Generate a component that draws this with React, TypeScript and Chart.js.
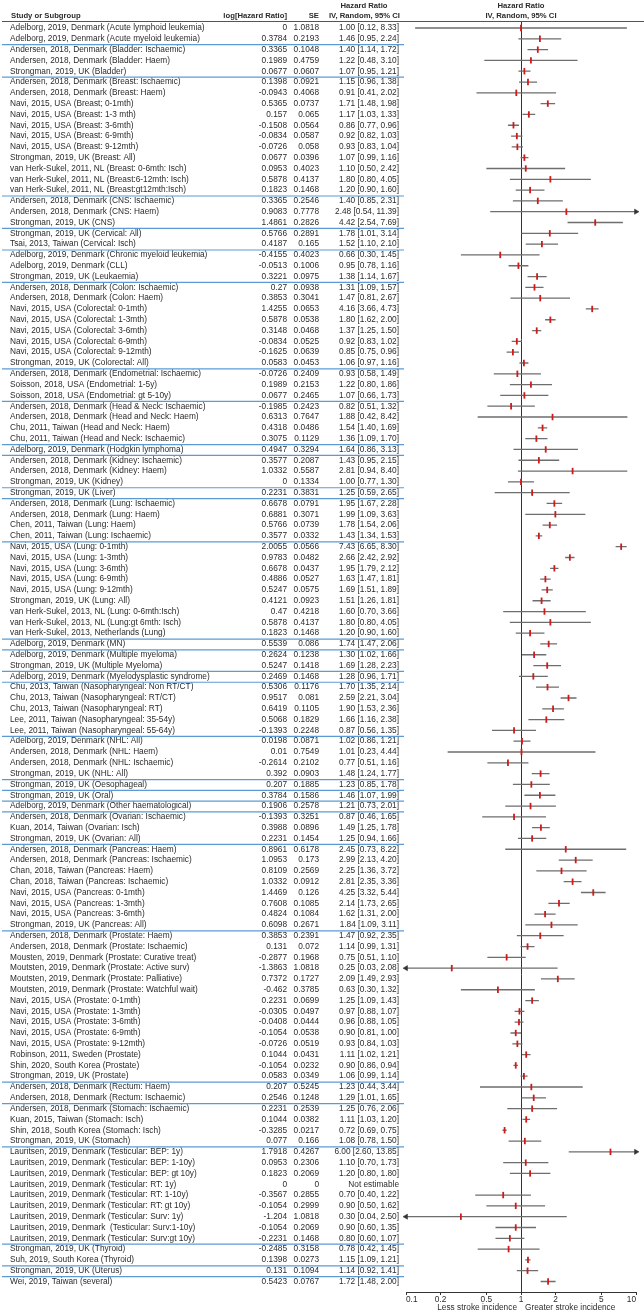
import React, { useEffect, useRef } from "react";
import { Chart, registerables } from "chart.js";

Chart.register(...registerables);

const studies: string[] = [
  "Adelborg, 2019, Denmark (Acute lymphoid leukemia)",
  "Adelborg, 2019, Denmark (Acute myeloid leukemia)",
  "Andersen, 2018, Denmark (Bladder: Ischaemic)",
  "Andersen, 2018, Denmark (Bladder: Haem)",
  "Strongman, 2019, UK (Bladder)",
  "Andersen, 2018, Denmark (Breast: Ischaemic)",
  "Andersen, 2018, Denmark (Breast: Haem)",
  "Navi, 2015, USA (Breast; 0-1mth)",
  "Navi, 2015, USA (Breast: 1-3 mth)",
  "Navi, 2015, USA (Breast: 3-6mth)",
  "Navi, 2015, USA (Breast: 6-9mth)",
  "Navi, 2015, USA (Breast: 9-12mth)",
  "Strongman, 2019, UK (Breast: All)",
  "van Herk-Sukel, 2011, NL (Breast: 0-6mth: Isch)",
  "van Herk-Sukel, 2011, NL (Breast:6-12mth: Isch)",
  "van Herk-Sukel, 2011, NL (Breast:gt12mth:Isch)",
  "Andersen, 2018, Denmark (CNS: Ischaemic)",
  "Andersen, 2018, Denmark (CNS: Haem)",
  "Strongman, 2019, UK (CNS)",
  "Strongman, 2019, UK (Cervical: All)",
  "Tsai, 2013, Taiwan (Cervical: Isch)",
  "Adelborg, 2019, Denmark (Chronic myeloid leukemia)",
  "Adelborg, 2019, Denmark (CLL)",
  "Strongman, 2019, UK (Leukaemia)",
  "Andersen, 2018, Denmark (Colon: Ischaemic)",
  "Andersen, 2018, Denmark (Colon: Haem)",
  "Navi, 2015, USA (Colorectal: 0-1mth)",
  "Navi, 2015, USA (Colorectal: 1-3mth)",
  "Navi, 2015, USA (Colorectal: 3-6mth)",
  "Navi, 2015, USA (Colorectal: 6-9mth)",
  "Navi, 2015, USA (Colorectal: 9-12mth)",
  "Strongman, 2019, UK (Colorectal: All)",
  "Andersen, 2018, Denmark (Endometrial: Ischaemic)",
  "Soisson, 2018, USA (Endometrial: 1-5y)",
  "Soisson, 2018, USA (Endometrial: gt 5-10y)",
  "Andersen, 2018, Denmark (Head & Neck: Ischaemic)",
  "Andersen, 2018, Denmark (Head and Neck: Haem)",
  "Chu, 2011, Taiwan (Head and Neck: Haem)",
  "Chu, 2011, Taiwan (Head and Neck: Ischaemic)",
  "Adelborg, 2019, Denmark (Hodgkin lymphoma)",
  "Andersen, 2018, Denmark (Kidney: Ischaemic)",
  "Andersen, 2018, Denmark (Kidney: Haem)",
  "Strongman, 2019, UK (Kidney)",
  "Strongman, 2019, UK (Liver)",
  "Andersen, 2018, Denmark (Lung: Ischaemic)",
  "Andersen, 2018, Denmark (Lung: Haem)",
  "Chen, 2011, Taiwan (Lung: Haem)",
  "Chen, 2011, Taiwan (Lung: Ischaemic)",
  "Navi, 2015, USA (Lung: 0-1mth)",
  "Navi, 2015, USA (Lung: 1-3mth)",
  "Navi, 2015, USA (Lung: 3-6mth)",
  "Navi, 2015, USA (Lung: 6-9mth)",
  "Navi, 2015, USA (Lung: 9-12mth)",
  "Strongman, 2019, UK (Lung: All)",
  "van Herk-Sukel, 2013, NL (Lung: 0-6mth:Isch)",
  "van Herk-Sukel, 2013, NL (Lung:gt 6mth: Isch)",
  "van Herk-Sukel, 2013, Netherlands (Lung)",
  "Adelborg, 2019, Denmark (MN)",
  "Adelborg, 2019, Denmark (Multiple myeloma)",
  "Strongman, 2019, UK (Multiple Myeloma)",
  "Adelborg, 2019, Denmark (Myelodysplastic syndrome)",
  "Chu, 2013, Taiwan (Nasopharyngeal: Non RT/CT)",
  "Chu, 2013, Taiwan (Nasopharyngeal: RT/CT)",
  "Chu, 2013, Taiwan (Nasopharyngeal: RT)",
  "Lee, 2011, Taiwan (Nasopharyngeal: 35-54y)",
  "Lee, 2011, Taiwan (Nasopharyngeal: 55-64y)",
  "Adelborg, 2019, Denmark (NHL: All)",
  "Andersen, 2018, Denmark (NHL: Haem)",
  "Andersen, 2018, Denmark (NHL: Ischaemic)",
  "Strongman, 2019, UK (NHL: All)",
  "Strongman, 2019, UK (Oesophageal)",
  "Strongman, 2019, UK (Oral)",
  "Adelborg, 2019, Denmark (Other haematological)",
  "Andersen, 2018, Denmark (Ovarian: Ischaemic)",
  "Kuan, 2014, Taiwan (Ovarian: Isch)",
  "Strongman, 2019, UK (Ovarian: All)",
  "Andersen, 2018, Denmark (Pancreas: Haem)",
  "Andersen, 2018, Denmark (Pancreas: Ischaemic)",
  "Chan, 2018, Taiwan (Pancreas: Haem)",
  "Chan, 2018, Taiwan (Pancreas: Ischaemic)",
  "Navi, 2015, USA (Pancreas: 0-1mth)",
  "Navi, 2015, USA (Pancreas: 1-3mth)",
  "Navi, 2015, USA (Pancreas: 3-6mth)",
  "Strongman, 2019, UK (Pancreas: All)",
  "Andersen, 2018, Denmark (Prostate: Haem)",
  "Andersen, 2018, Denmark (Prostate: Ischaemic)",
  "Mousten, 2019, Denmark (Prostate: Curative treat)",
  "Moutsten, 2019, Denmark (Prostate: Active surv)",
  "Moutsten, 2019, Denmark (Prostate: Palliative)",
  "Moutsten, 2019, Denmark (Prostate: Watchful wait)",
  "Navi, 2015, USA (Prostate: 0-1mth)",
  "Navi, 2015, USA (Prostate: 1-3mth)",
  "Navi, 2015, USA (Prostate: 3-6mth)",
  "Navi, 2015, USA (Prostate: 6-9mth)",
  "Navi, 2015, USA (Prostate: 9-12mth)",
  "Robinson, 2011, Sweden (Prostate)",
  "Shin, 2020, South Korea (Prostate)",
  "Strongman, 2019, UK (Prostate)",
  "Andersen, 2018, Denmark (Rectum: Haem)",
  "Andersen, 2018, Denmark (Rectum: Ischaemic)",
  "Andersen, 2018, Denmark (Stomach: Ischaemic)",
  "Kuan, 2015, Taiwan (Stomach: Isch)",
  "Shin, 2018, South Korea (Stomach: Isch)",
  "Strongman, 2019, UK (Stomach)",
  "Lauritsen, 2019, Denmark (Testicular: BEP: 1y)",
  "Lauritsen, 2019, Denmark (Testicular: BEP: 1-10y)",
  "Lauritsen, 2019, Denmark (Testicular: BEP: gt 10y)",
  "Lauritsen, 2019, Denmark (Testicular: RT: 1y)",
  "Lauritsen, 2019, Denmark (Testicular: RT: 1-10y)",
  "Lauritsen, 2019, Denmark (Testicular: RT: gt 10y)",
  "Lauritsen, 2019, Denmark (Testicular: Surv: 1y)",
  "Lauritsen, 2019, Denmark  (Testicular: Surv:1-10y)",
  "Lauritsen, 2019, Denmark (Testicular: Surv:gt 10y)",
  "Strongman, 2019, UK (Thyroid)",
  "Suh, 2019, South Korea (Thyroid)",
  "Strongman, 2019, UK (Uterus)",
  "Wei, 2019, Taiwan (several)",
];

const logHR: number[] = [
  0, 0.3784, 0.3365, 0.1989, 0.0677, 0.1398, -0.0943, 0.5365, 0.157, -0.1508,
  -0.0834, -0.0726, 0.0677, 0.0953, 0.5878, 0.1823, 0.3365, 0.9083, 1.4861, 0.5766,
  0.4187, -0.4155, -0.0513, 0.3221, 0.27, 0.3853, 1.4255, 0.5878, 0.3148, -0.0834,
  -0.1625, 0.0583, -0.0726, 0.1989, 0.0677, -0.1985, 0.6313, 0.4318, 0.3075, 0.4947,
  0.3577, 1.0332, 0, 0.2231, 0.6678, 0.6881, 0.5766, 0.3577, 2.0055, 0.9783,
  0.6678, 0.4886, 0.5247, 0.4121, 0.47, 0.5878, 0.1823, 0.5539, 0.2624, 0.5247,
  0.2469, 0.5306, 0.9517, 0.6419, 0.5068, -0.1393, 0.0198, 0.01, -0.2614, 0.392,
  0.207, 0.3784, 0.1906, -0.1393, 0.3988, 0.2231, 0.8961, 1.0953, 0.8109, 1.0332,
  1.4469, 0.7608, 0.4824, 0.6098, 0.3853, 0.131, -0.2877, -1.3863, 0.7372, -0.462,
  0.2231, -0.0305, -0.0408, -0.1054, -0.0726, 0.1044, -0.1054, 0.0583, 0.207, 0.2546,
  0.2231, 0.1044, -0.3285, 0.077, 1.7918, 0.0953, 0.1823, 0, -0.3567, -0.1054,
  -1.204, -0.1054, -0.2231, -0.2485, 0.1398, 0.131, 0.5423,
];

const seVals: number[] = [
  1.0818, 0.2193, 0.1048, 0.4759, 0.0607, 0.0921, 0.4068, 0.0737, 0.065, 0.0564,
  0.0587, 0.058, 0.0396, 0.4023, 0.4137, 0.1468, 0.2546, 0.7778, 0.2826, 0.2891,
  0.165, 0.4023, 0.1006, 0.0975, 0.0938, 0.3041, 0.0653, 0.0538, 0.0468, 0.0525,
  0.0639, 0.0453, 0.2409, 0.2153, 0.2465, 0.2423, 0.7647, 0.0486, 0.1129, 0.3294,
  0.2087, 0.5587, 0.1334, 0.3831, 0.0791, 0.3071, 0.0739, 0.0332, 0.0566, 0.0482,
  0.0437, 0.0527, 0.0575, 0.0923, 0.4218, 0.4137, 0.1468, 0.086, 0.1238, 0.1418,
  0.1468, 0.1176, 0.081, 0.1105, 0.1829, 0.2248, 0.0871, 0.7549, 0.2102, 0.0903,
  0.1885, 0.1586, 0.2578, 0.3251, 0.0896, 0.1454, 0.6178, 0.173, 0.2569, 0.0912,
  0.126, 0.1085, 0.1084, 0.2671, 0.2391, 0.072, 0.1968, 1.0818, 0.1727, 0.3785,
  0.0699, 0.0497, 0.0444, 0.0538, 0.0519, 0.0431, 0.0232, 0.0349, 0.5245, 0.1248,
  0.2539, 0.0382, 0.0217, 0.166, 0.4267, 0.2306, 0.2069, 0, 0.2855, 0.2999,
  1.0818, 0.2069, 0.1468, 0.3158, 0.0273, 0.1094, 0.0767,
];

const hrVals: (number | null)[] = [
  1.0, 1.46, 1.4, 1.22, 1.07, 1.15, 0.91, 1.71, 1.17, 0.86,
  0.92, 0.93, 1.07, 1.1, 1.8, 1.2, 1.4, 2.48, 4.42, 1.78,
  1.52, 0.66, 0.95, 1.38, 1.31, 1.47, 4.16, 1.8, 1.37, 0.92,
  0.85, 1.06, 0.93, 1.22, 1.07, 0.82, 1.88, 1.54, 1.36, 1.64,
  1.43, 2.81, 1.0, 1.25, 1.95, 1.99, 1.78, 1.43, 7.43, 2.66,
  1.95, 1.63, 1.69, 1.51, 1.6, 1.8, 1.2, 1.74, 1.3, 1.69,
  1.28, 1.7, 2.59, 1.9, 1.66, 0.87, 1.02, 1.01, 0.77, 1.48,
  1.23, 1.46, 1.21, 0.87, 1.49, 1.25, 2.45, 2.99, 2.25, 2.81,
  4.25, 2.14, 1.62, 1.84, 1.47, 1.14, 0.75, 0.25, 2.09, 0.63,
  1.25, 0.97, 0.96, 0.9, 0.93, 1.11, 0.9, 1.06, 1.23, 1.29,
  1.25, 1.11, 0.72, 1.08, 6.0, 1.1, 1.2, null, 0.7, 0.9,
  0.3, 0.9, 0.8, 0.78, 1.15, 1.14, 1.72,
];

const ciLow: (number | null)[] = [
  0.12, 0.95, 1.14, 0.48, 0.95, 0.96, 0.41, 1.48, 1.03, 0.77,
  0.82, 0.83, 0.99, 0.5, 0.8, 0.9, 0.85, 0.54, 2.54, 1.01,
  1.1, 0.3, 0.78, 1.14, 1.09, 0.81, 3.66, 1.62, 1.25, 0.83,
  0.75, 0.97, 0.58, 0.8, 0.66, 0.51, 0.42, 1.4, 1.09, 0.86,
  0.95, 0.94, 0.77, 0.59, 1.67, 1.09, 1.54, 1.34, 6.65, 2.42,
  1.79, 1.47, 1.51, 1.26, 0.7, 0.8, 0.9, 1.47, 1.02, 1.28,
  0.96, 1.35, 2.21, 1.53, 1.16, 0.56, 0.86, 0.23, 0.51, 1.24,
  0.85, 1.07, 0.73, 0.46, 1.25, 0.94, 0.73, 2.13, 1.36, 2.35,
  3.32, 1.73, 1.31, 1.09, 0.92, 0.99, 0.51, 0.03, 1.49, 0.3,
  1.09, 0.88, 0.88, 0.81, 0.84, 1.02, 0.86, 0.99, 0.44, 1.01,
  0.76, 1.03, 0.69, 0.78, 2.6, 0.7, 0.8, null, 0.4, 0.5,
  0.04, 0.6, 0.6, 0.42, 1.09, 0.92, 1.48,
];

const ciHigh: (number | null)[] = [
  8.33, 2.24, 1.72, 3.1, 1.21, 1.38, 2.02, 1.98, 1.33, 0.96,
  1.03, 1.04, 1.16, 2.42, 4.05, 1.6, 2.31, 11.39, 7.69, 3.14,
  2.1, 1.45, 1.16, 1.67, 1.57, 2.67, 4.73, 2.0, 1.5, 1.02,
  0.96, 1.16, 1.49, 1.86, 1.73, 1.32, 8.42, 1.69, 1.7, 3.13,
  2.15, 8.4, 1.3, 2.65, 2.28, 3.63, 2.06, 1.53, 8.3, 2.92,
  2.12, 1.81, 1.89, 1.81, 3.66, 4.05, 1.6, 2.06, 1.66, 2.23,
  1.71, 2.14, 3.04, 2.36, 2.38, 1.35, 1.21, 4.44, 1.16, 1.77,
  1.78, 1.99, 2.01, 1.65, 1.78, 1.66, 8.22, 4.2, 3.72, 3.36,
  5.44, 2.65, 2.0, 3.11, 2.35, 1.31, 1.1, 2.08, 2.93, 1.32,
  1.43, 1.07, 1.05, 1.0, 1.03, 1.21, 0.94, 1.14, 3.44, 1.65,
  2.06, 1.2, 0.75, 1.5, 13.85, 1.73, 1.8, null, 1.22, 1.62,
  2.5, 1.35, 1.07, 1.45, 1.21, 1.41, 2.0,
];

// row indices after which a blue separator is drawn
const groupEnds: number[] = [
  1, 4, 15, 18, 20, 23, 31, 34, 38, 39, 42, 43, 47, 56, 57, 59, 60, 65, 69, 70,
  71, 72, 75, 83, 97, 99, 103, 112, 114, 115,
];

const tickValues: number[] = [0.1, 0.2, 0.5, 1, 2, 5, 10];
const tickLabels: string[] = ["0.1", "0.2", "0.5", "1", "2", "5", "10"];

const AXIS_MIN = 0.1;
const AXIS_MAX = 10;
const FONT = '"Liberation Sans", Arial, Helvetica, sans-serif';
const TEXT = "#2b2b2b";

function fmtCI(i: number): string {
  const h = hrVals[i];
  const lo = ciLow[i];
  const hi = ciHigh[i];
  if (h == null || lo == null || hi == null) return "Not estimable";
  return `${h.toFixed(2)} [${lo.toFixed(2)}, ${hi.toFixed(2)}]`;
}

const tablePlugin = {
  id: "forestTable",
  beforeDatasetsDraw(chart: any) {
    const { ctx, chartArea } = chart;
    const xs = chart.scales.x;
    const x1 = Math.round(xs.getPixelForValue(1)) + 0.5;
    ctx.save();
    ctx.strokeStyle = "#333";
    ctx.lineWidth = 1;
    ctx.beginPath();
    ctx.moveTo(x1, chartArea.top);
    ctx.lineTo(x1, chartArea.bottom);
    ctx.stroke();
    ctx.restore();
  },
  afterDraw(chart: any) {
    const { ctx, chartArea } = chart;
    const ys = chart.scales.y;
    const xs = chart.scales.x;
    const x1 = xs.getPixelForValue(1);
    ctx.save();
    ctx.fillStyle = TEXT;
    ctx.textBaseline = "middle";

    // headers
    ctx.font = `bold 7.7px ${FONT}`;
    ctx.textAlign = "left";
    ctx.fillText("Study or Subgroup", 11, 16);
    ctx.textAlign = "right";
    ctx.fillText("log[Hazard Ratio]", 287, 16);
    ctx.fillText("SE", 319, 16);
    ctx.fillText("IV, Random, 95% CI", 400, 16);
    ctx.textAlign = "center";
    ctx.fillText("Hazard Ratio", 364, 6);
    ctx.fillText("Hazard Ratio", x1, 6);
    ctx.fillText("IV, Random, 95% CI", x1, 16);

    // header rule
    ctx.strokeStyle = "#555";
    ctx.lineWidth = 1;
    ctx.beginPath();
    ctx.moveTo(2, 21.5);
    ctx.lineTo(644, 21.5);
    ctx.stroke();

    // rows
    ctx.font = `8.3px ${FONT}`;
    for (let i = 0; i < studies.length; i++) {
      const y = ys.getPixelForValue(i);
      ctx.textAlign = "left";
      ctx.fillText(studies[i], 10, y);
      ctx.textAlign = "right";
      ctx.fillText(String(logHR[i]), 287, y);
      ctx.fillText(String(seVals[i]), 319, y);
      ctx.fillText(fmtCI(i), 399, y);
    }

    // group separators
    ctx.strokeStyle = "#5b9bd5";
    ctx.lineWidth = 1.2;
    for (const g of groupEnds) {
      const y = (ys.getPixelForValue(g) + ys.getPixelForValue(g + 1)) / 2 + 0.5;
      ctx.beginPath();
      ctx.moveTo(2, y);
      ctx.lineTo(404, y);
      ctx.stroke();
    }

    // axis captions
    ctx.fillStyle = TEXT;
    ctx.font = `8.3px ${FONT}`;
    const yc = chartArea.bottom + 16;
    ctx.textAlign = "right";
    ctx.fillText("Less stroke incidence", x1 - 4, yc);
    ctx.textAlign = "left";
    ctx.fillText("Greater stroke incidence", x1 + 4, yc);
    ctx.restore();
  },
};

export default function App() {
  const ref = useRef<HTMLCanvasElement | null>(null);

  useEffect(() => {
    document.body.style.margin = "0";
    const canvas = ref.current;
    if (!canvas) return;

    const whisker: any[] = [];
    const markers: any[] = [];
    const arrows: any[] = [];
    for (let i = 0; i < studies.length; i++) {
      const h = hrVals[i];
      const lo = ciLow[i];
      const hi = ciHigh[i];
      if (h == null || lo == null || hi == null) continue;
      whisker.push({ x: Math.max(lo, AXIS_MIN), y: i });
      whisker.push({ x: Math.min(hi, AXIS_MAX), y: i });
      whisker.push({ x: 1, y: null });
      markers.push({ x: h, y: i });
      if (lo < AXIS_MIN) arrows.push({ x: AXIS_MIN, y: i, dir: -1 });
      if (hi > AXIS_MAX) arrows.push({ x: AXIS_MAX, y: i, dir: 1 });
    }

    const chart = new Chart(canvas, {
      type: "scatter",
      data: {
        datasets: [
          {
            type: "line",
            data: whisker,
            borderColor: "#6e6e6e",
            borderWidth: 1.3,
            pointRadius: 0,
            spanGaps: false,
            clip: false,
            order: 2,
          } as any,
          {
            data: arrows,
            pointStyle: "triangle",
            pointRadius: 3,
            pointRotation: (c: any) => (c.raw && c.raw.dir > 0 ? 90 : -90),
            pointBackgroundColor: "#333",
            pointBorderColor: "#333",
            pointBorderWidth: 0.5,
            clip: false,
            order: 1,
          } as any,
          {
            data: markers,
            pointStyle: "line",
            pointRadius: 3.2,
            pointRotation: 90,
            pointBorderColor: "#d01a1a",
            pointBackgroundColor: "#d01a1a",
            pointBorderWidth: 1.8,
            clip: false,
            order: 0,
          } as any,
        ],
      },
      options: {
        responsive: false,
        animation: false,
        events: [],
        layout: { padding: { left: 406, right: 8, top: 22, bottom: 8 } },
        plugins: {
          legend: { display: false },
          tooltip: { enabled: false },
        },
        scales: {
          x: {
            type: "logarithmic",
            min: AXIS_MIN,
            max: AXIS_MAX,
            afterBuildTicks: (s: any) => {
              s.ticks = tickValues.map((v) => ({ value: v }));
            },
            afterFit: (s: any) => {
              s.height = 16;
            },
            grid: {
              drawOnChartArea: false,
              drawTicks: true,
              tickLength: 3,
              tickColor: "#333",
              color: "#333",
            },
            border: { display: true, color: "#333", width: 1 },
            ticks: {
              autoSkip: false,
              maxRotation: 0,
              align: "inner",
              padding: 0,
              color: TEXT,
              font: { size: 8.3, family: FONT },
              callback: (_v: any, i: number) => tickLabels[i],
            },
          },
          y: {
            type: "linear",
            reverse: true,
            min: -0.555,
            max: 116.97,
            display: false,
          },
        },
      } as any,
      plugins: [tablePlugin],
    });

    return () => chart.destroy();
  }, []);

  return (
    <canvas
      ref={ref}
      width={644}
      height={1316}
      style={{ display: "block", width: 644, height: 1316 }}
    />
  );
}
